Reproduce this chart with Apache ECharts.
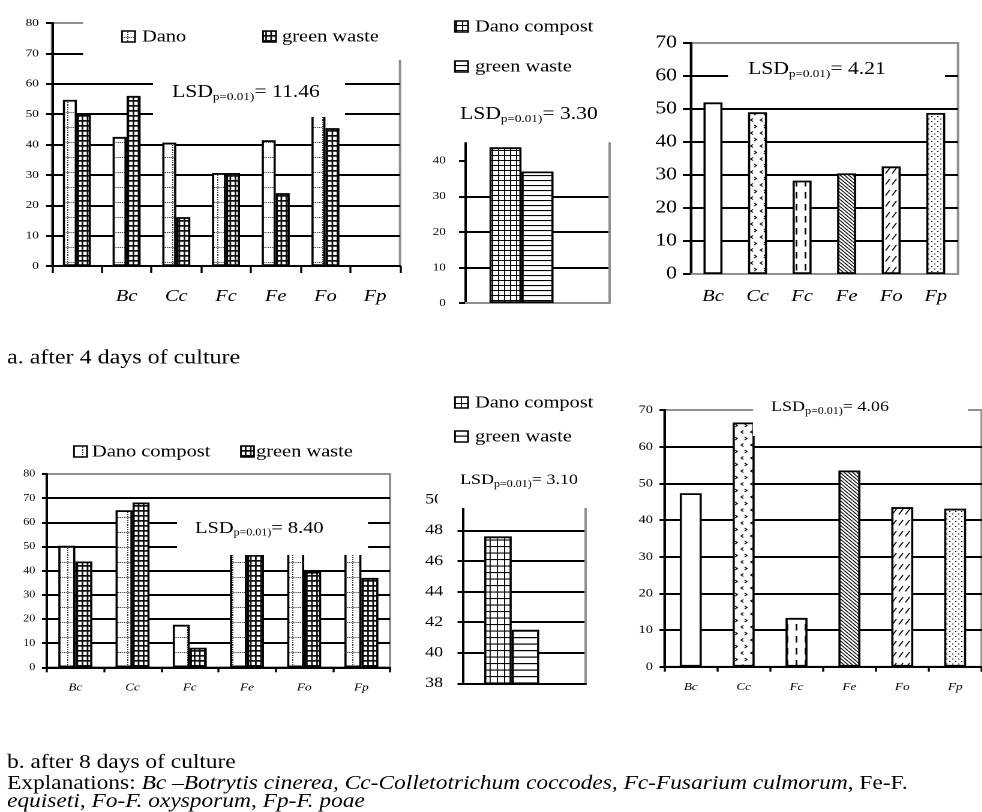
<!DOCTYPE html>
<html><head><meta charset="utf-8">
<script src="https://cdn.jsdelivr.net/npm/echarts@6/dist/echarts.min.js"></script>
<style>
html,body{margin:0;padding:0;background:#fff;overflow:hidden;width:982px;height:812px}
#chart{width:818.33px;height:812px;transform:scaleX(1.2);transform-origin:0 0}
</style>
</head><body><div id="chart"></div>
<script>
// ---- data ----
const fungi = ['Bc', 'Cc', 'Fc', 'Fe', 'Fo', 'Fp'];
const legendA = ['Dano', 'green waste'];
const legendB = ['Dano compost', 'green waste'];
// after 4 days
const dano4 = [54.7, 42.5, 40.6, 30.6, 41.4, 55];
const green4 = [50, 56, 16.1, 30.6, 24, 45.4];
const compost4 = [43.8];
const greenMean4 = [37.0];
const fungiMean4 = [52.0, 49.0, 28.3, 30.5, 32.6, 48.8];
// after 8 days
const dano8 = [50.3, 65.0, 17.6, 58, 55, 54];
const green8 = [43.8, 68.2, 8.1, 55, 39.5, 37.0];
const compost8 = [47.6];
const greenMean8 = [41.5];
const fungiMean8 = [47.3, 66.6, 13.3, 53.5, 43.5, 43.1];
const lsd = ['11.46', '3.30', '4.21', '8.40', '3.10', '4.06'];
const captionA = 'a. after 4 days of culture';
const captionB = 'b. after 8 days of culture';

// ---- layout helpers (source figure is stretched 1.2x horizontally) ----
const S = 1.2;
const X = v => v / S;
const FONT = 'Liberation Serif';
const GRAY = '#909090';

function makePat(w, h, draw) {
  const k = 4;
  const c = document.createElement('canvas');
  c.width = Math.round(w * k); c.height = Math.round(h * k);
  const g = c.getContext('2d');
  g.scale(k, k);
  g.fillStyle = '#fff'; g.fillRect(0, 0, w, h);
  g.fillStyle = '#000'; g.strokeStyle = '#000';
  draw(g, w, h);
  return { image: c, repeat: 'repeat', scaleX: 1 / k, scaleY: 1 / k };
}
const P = {
  danoDots: makePat(12.5, 15, g => {
    g.fillStyle = '#333';
    for (let y = 0; y < 15; y += 2) g.fillRect(6, y, 0.9, 1);
    for (let x = 0; x < 12.5; x += 1.75) g.fillRect(x, 7, 0.9, 1);
  }),
  smallGrid: makePat(4.25, 5, g => {
    g.fillStyle = '#111';
    g.fillRect(0, 0, 1.4, 5); g.fillRect(0, 0, 4.25, 1.7);
  }),
  c2dano: makePat(5, 5, g => { g.fillRect(0, 0, 0.9, 5); g.fillRect(0, 0, 5, 1); }),
  c2green: makePat(4, 5, g => { g.fillRect(0, 0, 4, 1.1); }),
  c5dano: makePat(6, 6.5, g => { g.fillRect(0, 0, 0.9, 6.5); g.fillRect(0, 0, 6, 1.1); }),
  c5green: makePat(4, 6.5, g => { g.fillRect(0, 0, 4, 1.2); }),
  Bc: '#fff',
  Cc: makePat(8, 13, g => {
    g.lineWidth = 0.9;
    g.beginPath(); g.moveTo(3.5, 1.5); g.lineTo(1.5, 3); g.lineTo(3.5, 4.5); g.stroke();
    g.beginPath(); g.moveTo(4.5, 8); g.lineTo(6.5, 9.5); g.lineTo(4.5, 11); g.stroke();
  }),
  Fc: makePat(7.5, 12, g => { g.fillRect(3, 0, 1.4, 6.5); }),
  Fe: makePat(3.5, 3.5, g => {
    g.lineWidth = 0.9;
    for (const o of [-3.5, 0, 3.5]) { g.beginPath(); g.moveTo(o, 0); g.lineTo(o + 3.5, 3.5); g.stroke(); }
  }),
  Fo: makePat(5.5, 11, g => {
    g.lineWidth = 1; g.beginPath(); g.moveTo(1, 8.5); g.lineTo(4.5, 3); g.stroke();
  }),
  Fp: makePat(5, 5, g => { g.fillRect(1, 1, 1, 1); g.fillRect(3.5, 3.5, 1, 1); })
};
const fungiPats = [P.Bc, P.Cc, P.Fc, P.Fe, P.Fo, P.Fp];

// ---- axes ----
const lineBlack = { show: true, onZero: false, lineStyle: { color: '#000', width: 2 } };
const lineGray = { show: true, onZero: false, lineStyle: { color: GRAY, width: 2 } };
const split = { show: true, showMinLine: false, showMaxLine: false, lineStyle: { color: '#000', width: 2 } };
const noSplit = { show: false };

function yVal(gridIndex, min, max, interval, fontSize, margin, tickLen, custom) {
  const ax = {
    gridIndex, type: 'value', min, max, interval,
    axisLine: lineBlack,
    axisTick: { show: true, length: tickLen, lineStyle: { color: '#000', width: 2 } },
    axisLabel: { fontFamily: FONT, fontSize, color: '#000', margin },
    splitLine: split
  };
  if (custom) { ax.axisTick.customValues = custom; ax.axisLabel.customValues = custom; }
  return ax;
}
function yRight(gridIndex, min, max) {
  return { gridIndex, type: 'value', position: 'right', min, max, axisLine: lineGray,
    axisTick: { show: false }, axisLabel: { show: false }, splitLine: noSplit };
}
function yHidden(gridIndex, min, max) {
  return { gridIndex, type: 'value', min, max, show: false, splitLine: noSplit };
}
function xCat(gridIndex, data, line, tickLen, fontSize, margin) {
  return {
    gridIndex, type: 'category', position: 'bottom', data,
    axisLine: line || { show: false },
    axisTick: tickLen ? { show: true, length: tickLen, lineStyle: { color: '#000', width: 1.7 } } : { show: false },
    axisLabel: fontSize ? { interval: 0, fontFamily: FONT, fontStyle: 'italic', fontSize, color: '#000', margin } : { show: false },
    splitLine: noSplit
  };
}

const grids = [
  { left: X(52), top: 23, width: X(348), height: 243, show: true, borderColor: GRAY, borderWidth: 2 },   // 0 a-left
  { left: X(465), top: 143, width: X(144), height: 160 },                                               // 1 a-mid lines
  { left: X(465), top: 143, width: X(113), height: 160 },                                               // 2 a-mid bars
  { left: X(690.7), top: 43, width: X(267.3), height: 231, show: true, borderColor: GRAY, borderWidth: 2 }, // 3 a-right
  { left: X(46.7), top: 474, width: X(343.3), height: 193.3, show: true, borderColor: GRAY, borderWidth: 2 }, // 4 b-left
  { left: X(462.3), top: 499.7, width: X(123.4), height: 183.6 },                                        // 5 b-mid lines
  { left: X(462.3), top: 499.7, width: X(98.8), height: 183.6 },                                         // 6 b-mid bars
  { left: X(664.3), top: 410, width: X(320.7), height: 256.7, show: true, borderColor: GRAY, borderWidth: 2 } // 7 b-right
];

const xAxes = [
  xCat(0, [...fungi, ''], lineBlack, 7),
  xCat(0, ['', ...fungi], null, 0, 17, 22),
  xCat(1, [''], lineGray, 0),
  { gridIndex: 2, type: 'category', data: ['all'], show: false },
  xCat(3, fungi, lineGray, 0, 17, 14),
  xCat(4, fungi, lineBlack, 5, 11, 15),
  xCat(5, [''], lineBlack, 0),
  { gridIndex: 6, type: 'category', data: ['all'], show: false },
  xCat(7, fungi, lineBlack, 5, 11, 15)
];
const yAxes = [
  yVal(0, 0, 80, 10, 11, 11, 5),
  yVal(1, 0, 45, 10, 11, 16, 5, [0, 10, 20, 30, 40]),
  yRight(1, 0, 45),
  yHidden(2, 0, 45),
  yVal(3, 0, 70, 10, 18, 11.5, 6.5),
  yVal(4, 0, 80, 10, 10, 9.5, 4),
  yVal(5, 38, 50, 2, 15, 16, 4),
  yRight(5, 38, 50),
  yHidden(6, 38, 50),
  yVal(7, 0, 70, 10, 12, 9.5, 4)
];

// ---- series ----
function bar(name, xi, yi, data, width, fill) {
  return {
    type: 'bar', name, xAxisIndex: xi, yAxisIndex: yi, data, clip: true,
    barWidth: X(width), barGap: '0%', silent: true,
    itemStyle: { color: fill, borderColor: '#000', borderWidth: 1.8 }
  };
}
const patterned = (vals, pats) => vals.map((v, i) => ({ value: v, itemStyle: { color: pats[i] } }));
const series = [
  bar(legendA[0], 0, 0, dano4, 14, P.danoDots),
  bar(legendA[1], 0, 0, green4, 14, P.smallGrid),
  bar(legendB[0], 3, 3, compost4, 32, P.c2dano),
  bar(legendB[1], 3, 3, greenMean4, 32, P.c2green),
  bar('mean 4', 4, 4, patterned(fungiMean4, fungiPats), 19, '#fff'),
  bar(legendB[0], 5, 5, dano8, 17, P.danoDots),
  bar(legendB[1], 5, 5, green8, 17, P.smallGrid),
  bar(legendB[0], 7, 8, compost8, 27.5, P.c5dano),
  bar(legendB[1], 7, 8, greenMean8, 27.5, P.c5green),
  bar('mean 8', 8, 9, patterned(fungiMean8, fungiPats), 22, '#fff')
];

// ---- overlays: white boxes, legends, LSD notes, captions ----
const G = [];
function whiteBox(x, y, w, h) {
  G.push({ type: 'rect', z: 100, silent: true, shape: { x: X(x), y, width: X(w), height: h }, style: { fill: '#fff' } });
}
function txt(x, y, text, size) {
  G.push({ type: 'text', z: 102, silent: true, x: X(x), y,
    style: { text, fontFamily: FONT, fontSize: size, fill: '#000', verticalAlign: 'middle', align: 'left' } });
}
function legendItem(ix, iy, fill, label, tx, ty) {
  G.push({ type: 'rect', z: 101, silent: true, shape: { x: X(ix), y: iy, width: X(13), height: 11 },
    style: { fill, stroke: '#000', lineWidth: 1.5 } });
  txt(tx, ty, label, 17);
}
function lsdNote(x, y, value, size, sub) {
  G.push({ type: 'text', z: 102, silent: true, x: X(x), y,
    style: {
      text: '{a|LSD}{b|p=0.01)}{a|= ' + value + '}', verticalAlign: 'middle', align: 'left',
      rich: {
        a: { fontFamily: FONT, fontSize: size, fill: '#000', verticalAlign: 'top' },
        b: { fontFamily: FONT, fontSize: sub, fill: '#000', verticalAlign: 'top', padding: [Math.round(size * 0.45), 0, 0, 0] }
      }
    } });
}
// chart a-left
whiteBox(83, 0, 330, 60);
whiteBox(153, 62, 192, 55);
legendItem(122, 31, P.danoDots, legendA[0], 142, 37);
legendItem(263, 31, P.smallGrid, legendA[1], 282, 37);
lsdNote(172, 93, lsd[0], 18, 11);
// chart a-mid
legendItem(455, 21, P.c2dano, legendB[0], 475, 27);
legendItem(455, 61, P.c2green, legendB[1], 475, 67);
lsdNote(460, 115, lsd[1], 18, 11);
// chart a-right
whiteBox(728, 56, 217, 40);
lsdNote(748, 70, lsd[2], 18, 11);
// chart b-left
whiteBox(177, 505, 191, 50);
legendItem(74, 446, P.danoDots, legendB[0], 92, 452);
legendItem(241, 446, P.smallGrid, legendB[1], 256, 452);
lsdNote(195, 529, lsd[3], 17, 10);
// chart b-mid
whiteBox(438, 462, 165, 46);
legendItem(455, 397, P.c5dano, legendB[0], 475, 403);
legendItem(455, 431, P.c5green, legendB[1], 475, 437);
lsdNote(460, 481, lsd[4], 15, 10);
// chart b-right
whiteBox(753, 390, 215, 46);
lsdNote(771, 408, lsd[5], 15, 10);
// captions
txt(7, 358, captionA, 20);
txt(7, 763, captionB, 19.5);
G.push({ type: 'text', z: 102, silent: true, x: X(7), y: 784,
  style: { text: '{n|Explanations: }{i|Bc –Botrytis cinerea, Cc-Colletotrichum coccodes, Fc-Fusarium culmorum, }{n|Fe-F.}',
    verticalAlign: 'middle', align: 'left',
    rich: { n: { fontFamily: FONT, fontSize: 19.5, fill: '#000' }, i: { fontFamily: FONT, fontSize: 19.5, fontStyle: 'italic', fill: '#000' } } } });
G.push({ type: 'text', z: 102, silent: true, x: X(7), y: 802,
  style: { text: 'equiseti, Fo-F. oxysporum, Fp-F. poae', fontFamily: FONT, fontSize: 19.5, fontStyle: 'italic',
    fill: '#000', verticalAlign: 'middle', align: 'left' } });

const chart = echarts.init(document.getElementById('chart'), null, { renderer: 'canvas', devicePixelRatio: 2 });
chart.setOption({
  animation: false,
  backgroundColor: '#fff',
  grid: grids,
  xAxis: xAxes,
  yAxis: yAxes,
  series,
  graphic: G
});
</script></body></html>
